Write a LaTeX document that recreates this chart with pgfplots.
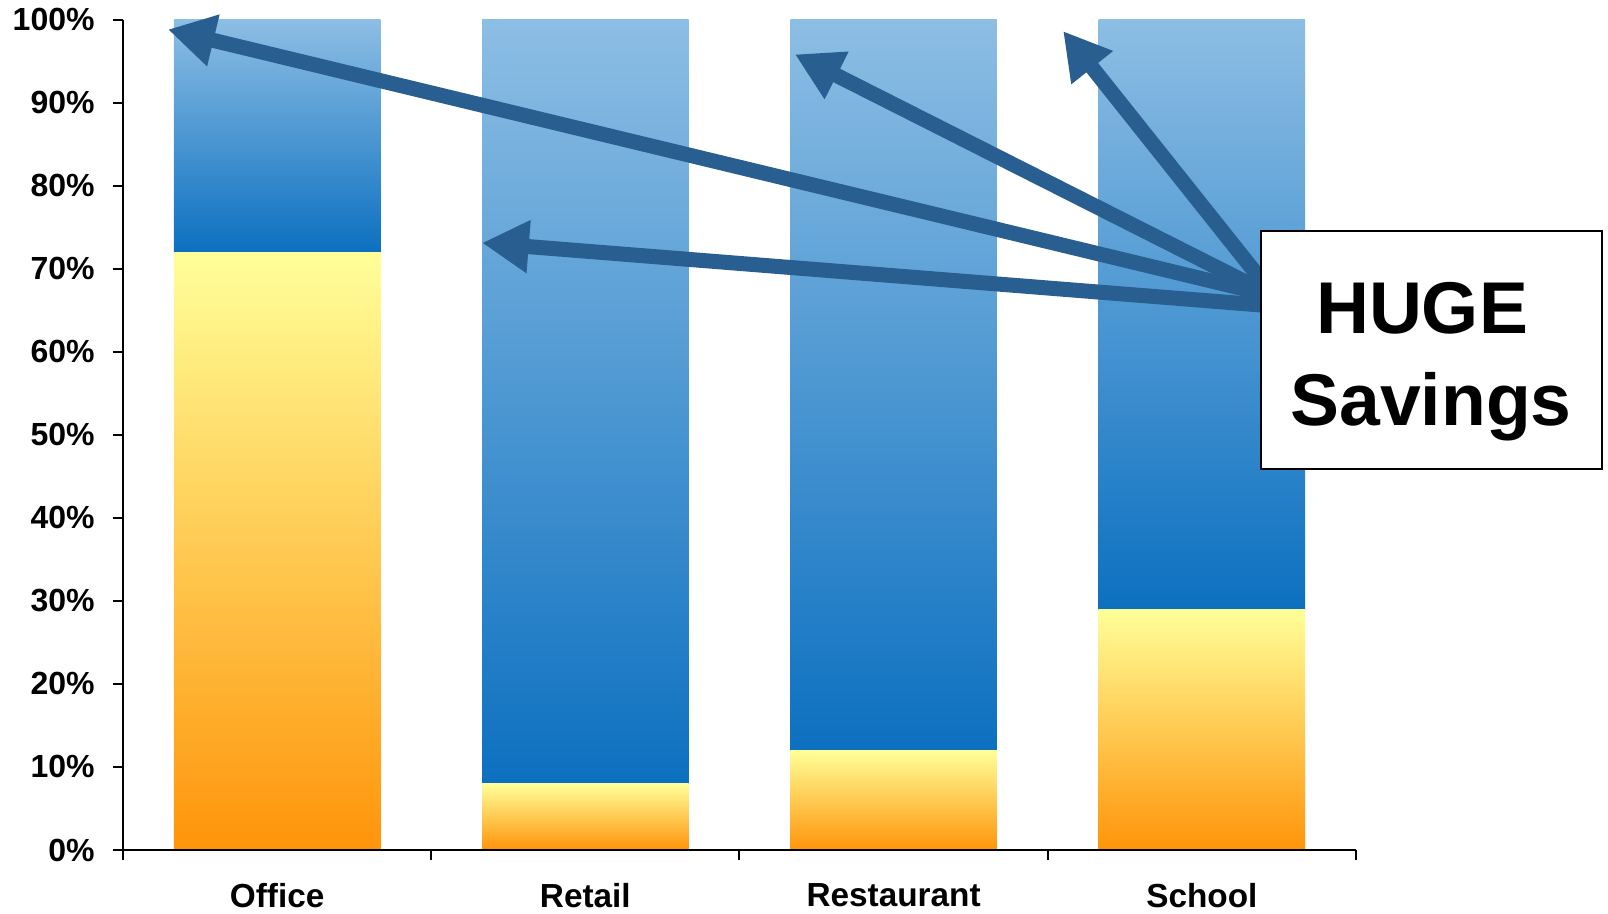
\documentclass[border=0pt]{standalone}
\usepackage{pgfplots}
\pgfplotsset{compat=1.18}
\usepackage{fontspec}
\setmainfont{Liberation Sans}
\usetikzlibrary{arrows.meta}
\definecolor{bluetop}{RGB}{141,190,228}
\definecolor{bluebot}{RGB}{12,112,192}
\definecolor{yeltop}{RGB}{255,255,153}
\definecolor{orabot}{RGB}{255,148,10}
\definecolor{arrowblue}{RGB}{41,94,145}
\pgfplotsset{
  geom/.style={at={(36.9pt,18.9pt)}, anchor=south west,
    scale only axis, width=369.9pt, height=249.15pt,
    xmin=-0.5, xmax=3.5, ymin=0, ymax=100, clip=false},
  baraxis/.style={geom, hide axis, stack plots=y},
  lowbar/.style={ybar stacked, bar width=0.67, draw=none, top color=yeltop, bottom color=orabot},
  highbar/.style={ybar stacked, bar width=0.67, draw=none, top color=bluetop, bottom color=bluebot},
}
\begin{document}
\begin{tikzpicture}
\path[use as bounding box] (0,0) rectangle (482.4pt,273.9pt);
% Office
\begin{axis}[baraxis]
\addplot[lowbar] coordinates {(0,72)};
\addplot[highbar] coordinates {(0,28)};
\end{axis}
% Retail
\begin{axis}[baraxis]
\addplot[lowbar] coordinates {(1,8)};
\addplot[highbar] coordinates {(1,92)};
\end{axis}
% Restaurant
\begin{axis}[baraxis]
\addplot[lowbar] coordinates {(2,12)};
\addplot[highbar] coordinates {(2,88)};
\end{axis}
% School
\begin{axis}[baraxis]
\addplot[lowbar] coordinates {(3,29)};
\addplot[highbar] coordinates {(3,71)};
\end{axis}
\begin{axis}[
  geom,
  axis x line*=bottom, axis y line*=left,
  axis line style={line width=0.6pt, black},
  ytick={0,10,20,30,40,50,60,70,80,90,100},
  yticklabels={0\%,10\%,20\%,30\%,40\%,50\%,60\%,70\%,80\%,90\%,100\%},
  xtick={0,1,2,3},
  xticklabels={Office,Retail,Restaurant,School},
  minor xtick={-0.5,0.5,1.5,2.5,3.5},
  tick align=outside,
  major tick length=3pt, minor tick length=3pt,
  major x tick style={draw=none},
  every tick/.style={black, line width=0.6pt},
  yticklabel style={font=\bfseries\fontsize{9.6}{11}\selectfont, xshift=-2pt},
  xticklabel style={font=\bfseries\fontsize{10}{11}\selectfont, yshift=-3.6pt},
]
\coordinate (o1) at (axis cs:3.2,67.0);
\coordinate (o2) at (axis cs:-0.354,98.8);
\coordinate (r1) at (axis cs:3.2,65.6);
\coordinate (r2) at (axis cs:0.665,73.1);
\coordinate (s1) at (axis cs:3.2,67.3);
\coordinate (s2) at (axis cs:1.68,95.8);
\coordinate (c1) at (axis cs:3.2,68.3);
\coordinate (c2) at (axis cs:2.55,98.6);
\end{axis}
\begin{scope}[arrowblue, line width=4.5pt]
\draw[-{Triangle[length=14pt,width=15pt]}] (o1) -- (o2);
\draw[-{Triangle[length=14pt,width=15pt]}] (r1) -- (r2);
\draw[-{Triangle[length=14pt,width=15pt]}] (s1) -- (s2);
\draw[-{Triangle[length=14pt,width=15pt]}] (c1) -- (c2);
\end{scope}
\draw[black, line width=0.6pt, fill=white] (378.3pt,133.2pt) rectangle (480.6pt,204.6pt);
\node[anchor=base, inner sep=0pt] at (426.6pt,174pt) {\bfseries\fontsize{22}{26}\selectfont HUGE};
\node[anchor=base, inner sep=0pt] at (429.3pt,146.2pt) {\bfseries\fontsize{22}{26}\selectfont Savings};
\end{tikzpicture}
\end{document}
